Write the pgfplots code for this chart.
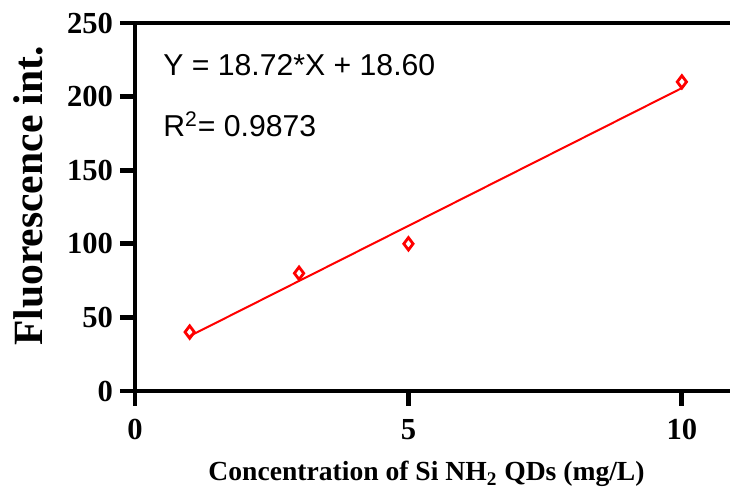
\documentclass[border=0pt]{standalone}
\usepackage{pgfplots}
\pgfplotsset{compat=1.18}
\usepackage{fontspec}
\setmainfont{Liberation Serif}
\newfontfamily\arialfont{Liberation Sans}
\begin{document}
\begin{tikzpicture}
\begin{axis}[
  scale only axis,
  width=297.5pt, height=184pt,
  xmin=0, xmax=10.88, ymin=0, ymax=250,
  axis x line=box, axis y line=left,
  xtick pos=bottom, ytick pos=left,
  axis line style={line width=2.4pt, -},
  every tick/.style={line width=2.4pt, black},
  tick align=outside,
  major tick length=7.5pt,
  xtick={0,5,10}, ytick={0,50,100,150,200,250},
  minor tick num=0,
  /pgf/number format/assume math mode=true,
  ticklabel style={font=\fontsize{15.3}{16}\selectfont\bfseries},
  xticklabel style={yshift=-3pt},
  xlabel={Concentration of Si NH\textsubscript{2} QDs (mg/L)},
  ylabel={Fluorescence int.},
  xlabel style={font=\fontsize{13.8}{15}\selectfont\bfseries, at={(axis description cs:0.49,0)}, anchor=base, yshift=-45pt},
  ylabel style={font=\fontsize{20.8}{22}\selectfont\bfseries, at={(axis description cs:-0.179,0.53)}, anchor=center},
  clip=false,
]
\addplot[red, line width=1pt, no marks] coordinates {(1,37.32) (10,205.8)};
\addplot[only marks, mark=diamond, mark size=3.1pt, mark options={red, line width=1.4pt, fill=white}] coordinates {(1,40) (3,80) (5,100) (10,210)};
\node[anchor=base west, font=\arialfont\fontsize{15.1}{17}\selectfont, inner sep=0pt] at (axis cs:0.51,214) {Y = 18.72*X + 18.60};
\node[anchor=base west, font=\arialfont\fontsize{15.1}{17}\selectfont, inner sep=0pt] at (axis cs:0.51,172.6) {R\textsuperscript{2}= 0.9873};
\coordinate (BL) at (rel axis cs:0,0);
\coordinate (TR) at (rel axis cs:1,1);
\end{axis}
\pgfresetboundingbox
\path[use as bounding box] ([shift={(-67.5pt,-50pt)}]BL) rectangle ([shift={(0pt,11.5pt)}]TR);
\end{tikzpicture}
\end{document}
